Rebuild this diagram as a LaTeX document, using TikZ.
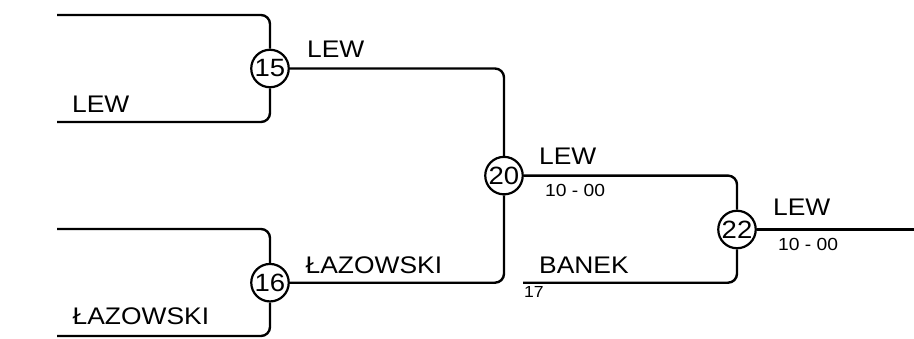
\documentclass[tikz,border=0pt]{standalone}
\usepackage{fontspec}
\setmainfont[FakeStretch=1.1]{Liberation Sans}
\begin{document}
\begin{tikzpicture}[x=1pt,y=-1pt,
  wire/.style={line width=2.4pt,rounded corners=9pt},
  seedcirc/.style={circle,draw,line width=2.2pt,minimum size=37.5pt,inner sep=0pt,font=\fontsize{25}{28}\selectfont},
  playerlbl/.style={anchor=base west,inner sep=0pt,font=\fontsize{24}{28}\selectfont},
  scorelbl/.style={anchor=base west,inner sep=0pt,font=\fontsize{17.5}{21}\selectfont},
  matchlbl/.style={anchor=base west,inner sep=0pt,font=\fontsize{16}{19}\selectfont}]
\useasboundingbox (0,0) rectangle (914,338);
% seeds
\node[seedcirc] (c15) at (270,68.5) {15};
\node[seedcirc] (c16) at (270,282.7) {16};
\node[seedcirc] (c20) at (504,175.6) {20};
\node[seedcirc] (c22) at (737,229.5) {22};
% free ends
\coordinate (a1) at (57,15);
\coordinate (a2) at (57,122);
\coordinate (b1) at (57,229);
\coordinate (b2) at (57,336);
\coordinate (d2) at (523,282.7);
\coordinate (fin) at (914,229.5);
% wires
\draw[wire] (a1) -| (c15.north);
\draw[wire] (a2) -| (c15.south);
\draw[wire] (b1) -| (c16.north);
\draw[wire] (b2) -| (c16.south);
\draw[wire] (c15.east) -| (c20.north);
\draw[wire] (c16.east) -| (c20.south);
\draw[wire] (c20.east) -| (c22.north);
\draw[wire] (d2) -| (c22.south);
\draw[wire] (c22.east) -- (fin);
% labels
\node[playerlbl] (l1) at (72,112.5) {LEW};
\node[playerlbl] (l2) at (72.5,324.5) {ŁAZOWSKI};
\node[playerlbl] (l3) at (307,57) {LEW};
\node[playerlbl] (l4) at (305.5,273.5) {ŁAZOWSKI};
\node[playerlbl] (l5) at (539,164.5) {LEW};
\node[scorelbl] (s5) at (545,196) {10 - 00};
\node[playerlbl] (l6) at (539,273) {BANEK};
\node[matchlbl] (t17) at (524,297) {17};
\node[playerlbl] (l7) at (773,215) {LEW};
\node[scorelbl] (s7) at (778,250) {10 - 00};
\end{tikzpicture}
\end{document}
